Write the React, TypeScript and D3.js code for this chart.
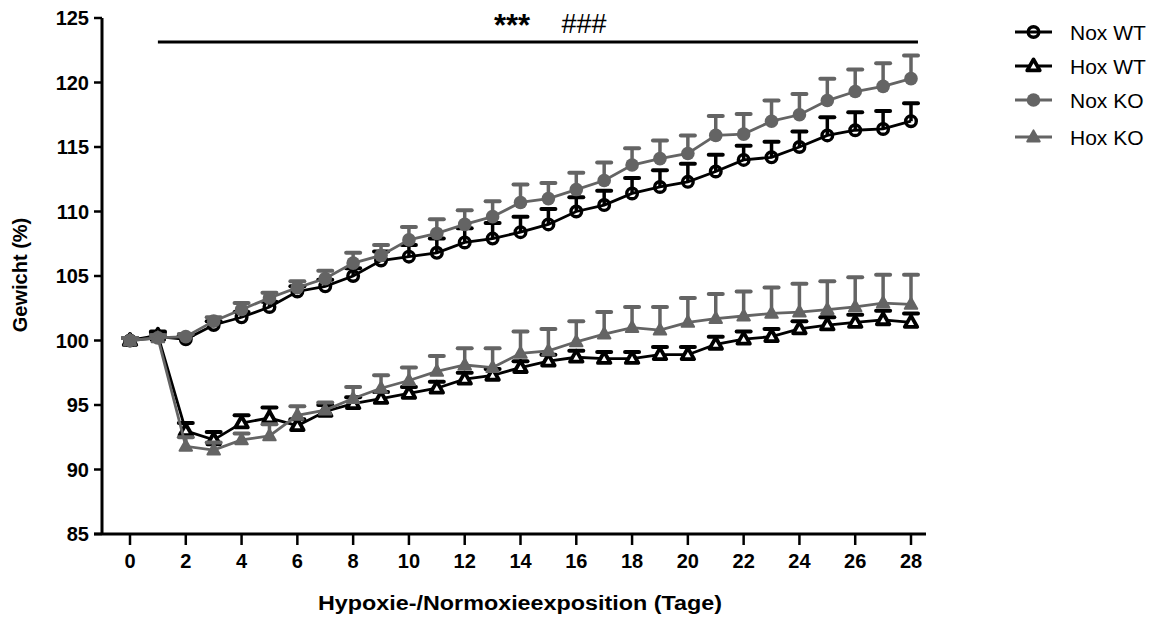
import React from "react";
import * as d3 from "d3";

const days = [0, 1, 2, 3, 4, 5, 6, 7, 8, 9, 10, 11, 12, 13, 14, 15, 16, 17, 18, 19, 20, 21, 22, 23, 24, 25, 26, 27, 28];
const xTicks = [0, 2, 4, 6, 8, 10, 12, 14, 16, 18, 20, 22, 24, 26, 28];
const yTicks = [85, 90, 95, 100, 105, 110, 115, 120, 125];

const noxWT = [100.0, 100.3, 100.1, 101.2, 101.8, 102.6, 103.8, 104.2, 105.0, 106.2, 106.5, 106.8, 107.6, 107.9, 108.4, 109.0, 110.0, 110.5, 111.4, 111.9, 112.3, 113.1, 114.0, 114.2, 115.0, 115.9, 116.3, 116.4, 117.0];
const noxWTErr = [0.2, 0.3, 0.3, 0.3, 0.4, 0.4, 0.4, 0.5, 0.6, 0.7, 0.9, 1.1, 1.1, 1.2, 1.2, 1.2, 1.1, 1.1, 1.2, 1.3, 1.4, 1.3, 1.1, 1.2, 1.2, 1.4, 1.4, 1.4, 1.4];

const hoxWT = [100.0, 100.4, 93.0, 92.3, 93.6, 94.0, 93.4, 94.5, 95.1, 95.5, 95.9, 96.3, 97.0, 97.3, 97.9, 98.4, 98.7, 98.6, 98.6, 98.9, 98.9, 99.7, 100.1, 100.3, 100.9, 101.2, 101.4, 101.6, 101.4];
const hoxWTErr = [0.2, 0.3, 0.6, 0.6, 0.6, 0.8, 0.5, 0.5, 0.5, 0.5, 0.5, 0.5, 0.5, 0.5, 0.5, 0.5, 0.5, 0.5, 0.5, 0.6, 0.6, 0.6, 0.6, 0.6, 0.6, 0.6, 0.6, 0.7, 0.7];

const noxKO = [100.0, 100.2, 100.3, 101.5, 102.4, 103.3, 104.1, 104.8, 106.0, 106.6, 107.8, 108.3, 109.0, 109.6, 110.7, 111.0, 111.7, 112.4, 113.6, 114.1, 114.5, 115.9, 116.0, 117.0, 117.5, 118.6, 119.3, 119.7, 120.3];
const noxKOErr = [0.2, 0.2, 0.2, 0.3, 0.5, 0.4, 0.5, 0.6, 0.8, 0.8, 1.0, 1.1, 1.1, 1.2, 1.4, 1.2, 1.3, 1.4, 1.3, 1.4, 1.4, 1.5, 1.55, 1.6, 1.6, 1.7, 1.7, 1.8, 1.8];

const hoxKO = [100.0, 100.2, 91.8, 91.5, 92.3, 92.6, 94.2, 94.6, 95.5, 96.3, 96.9, 97.6, 98.1, 97.9, 99.0, 99.2, 99.9, 100.5, 101.0, 100.8, 101.4, 101.7, 101.9, 102.1, 102.2, 102.4, 102.6, 102.9, 102.8];
const hoxKOErr = [0.2, 0.2, 0.7, 0.6, 0.5, 0.9, 0.7, 0.6, 0.9, 1.0, 1.0, 1.2, 1.3, 1.5, 1.7, 1.7, 1.6, 1.7, 1.6, 1.8, 1.9, 1.9, 1.9, 2.0, 2.2, 2.2, 2.3, 2.2, 2.3];

const seriesNames = ["Nox WT", "Hox WT", "Nox KO", "Hox KO"];
const sigStart = 1;
const sigEnd = 28.25;
const sigLabels = ["***", "###"];

const BLACK = "#000";
const GRAY = "#646464";
const FONT = "Arial, 'Liberation Sans', Helvetica, sans-serif";

type Series = { name: string; values: number[]; err: number[]; color: string; shape: "circle" | "triangle"; open: boolean };

const series: Series[] = [
  { name: seriesNames[0], values: noxWT, err: noxWTErr, color: BLACK, shape: "circle", open: true },
  { name: seriesNames[1], values: hoxWT, err: hoxWTErr, color: BLACK, shape: "triangle", open: true },
  { name: seriesNames[2], values: noxKO, err: noxKOErr, color: GRAY, shape: "circle", open: false },
  { name: seriesNames[3], values: hoxKO, err: hoxKOErr, color: GRAY, shape: "triangle", open: false },
];

function Marker({ s, cx, cy }: { s: Series; cx: number; cy: number }) {
  if (s.shape === "circle") {
    return s.open ? (
      <circle cx={cx} cy={cy} r={5.3} fill="none" stroke={s.color} strokeWidth={3.4} />
    ) : (
      <circle cx={cx} cy={cy} r={6.8} fill={s.color} />
    );
  }
  const h = 11;
  const w = 12.5;
  const p = `M${cx},${cy - h * 0.6} L${cx + w / 2},${cy + h * 0.4} L${cx - w / 2},${cy + h * 0.4} Z`;
  return s.open ? (
    <path d={p} fill="#fff" stroke={s.color} strokeWidth={3.8} strokeLinejoin="round" />
  ) : (
    <path d={p} fill={s.color} stroke={s.color} strokeWidth={2} strokeLinejoin="round" />
  );
}

export default function App() {
  const width = 1154;
  const height = 617;
  const x = d3.scaleLinear().domain([0, 28]).range([130, 911]);
  const y = d3.scaleLinear().domain([85, 125]).range([534, 18]);
  const axisX = 102;
  const axisRight = 926;

  const line = d3
    .line<number>()
    .x((_, i) => x(days[i]))
    .y((v) => y(v));

  return (
    <svg width={width} height={height} style={{ position: "absolute", left: 0, top: 0, background: "#fff" }} fontFamily={FONT}>
      {/* Y axis */}
      <line x1={axisX} x2={axisX} y1={y(125)} y2={y(85) + 1} stroke="#000" strokeWidth={3} />
      {yTicks.map((t) => (
        <g key={t}>
          <line x1={axisX - 8} x2={axisX} y1={y(t)} y2={y(t)} stroke="#000" strokeWidth={2.5} />
          <text x={axisX - 13} y={y(t)} dy="0.36em" textAnchor="end" fontSize={20} fontWeight="bold">
            {t}
          </text>
        </g>
      ))}
      {/* X axis */}
      <line x1={axisX - 8} x2={axisRight} y1={y(85)} y2={y(85)} stroke="#000" strokeWidth={3} />
      {xTicks.map((t) => (
        <g key={t}>
          <line x1={x(t)} x2={x(t)} y1={y(85)} y2={y(85) + 11} stroke="#000" strokeWidth={2.5} />
          <text x={x(t)} y={y(85) + 34} textAnchor="middle" fontSize={20} fontWeight="bold">
            {t}
          </text>
        </g>
      ))}
      <text x={520} y={610} textAnchor="middle" fontSize={20} fontWeight="bold" textLength={404} lengthAdjust="spacingAndGlyphs">
        Hypoxie-/Normoxieexposition (Tage)
      </text>
      <text transform={`translate(27,275) rotate(-90)`} textAnchor="middle" fontSize={20} fontWeight="bold">
        Gewicht (%)
      </text>

      {/* significance */}
      <line x1={x(sigStart)} x2={x(sigEnd)} y1={42} y2={42} stroke="#000" strokeWidth={3} />
      <text x={512} y={36} textAnchor="middle" fontSize={31} fontWeight="bold">
        {sigLabels[0]}
      </text>
      <text x={584} y={33} textAnchor="middle" fontSize={27}>
        {sigLabels[1]}
      </text>

      {/* series */}
      {series.map((s) => (
        <g key={s.name}>
          {s.values.map((v, i) => {
            const cx = x(days[i]);
            const yt = y(v + s.err[i]);
            return (
              <g key={i}>
                <line x1={cx} x2={cx} y1={y(v)} y2={yt} stroke={s.color} strokeWidth={3.5} />
                <line x1={cx - 7} x2={cx + 7} y1={yt} y2={yt} stroke={s.color} strokeWidth={4} strokeLinecap="round" />
              </g>
            );
          })}
          <path d={line(s.values) || ""} fill="none" stroke={s.color} strokeWidth={2.8} />
          {s.values.map((v, i) => (
            <Marker key={i} s={s} cx={x(days[i])} cy={y(v)} />
          ))}
        </g>
      ))}

      {/* legend */}
      {series.map((s, i) => {
        const ly = [32, 66, 100, 137][i];
        return (
          <g key={s.name}>
            <line x1={1015} x2={1052} y1={ly} y2={ly} stroke={s.color} strokeWidth={3} />
            <Marker s={s} cx={1033.5} cy={ly} />
            <text x={1070} y={ly} dy="0.36em" fontSize={21}>
              {s.name}
            </text>
          </g>
        );
      })}
    </svg>
  );
}
